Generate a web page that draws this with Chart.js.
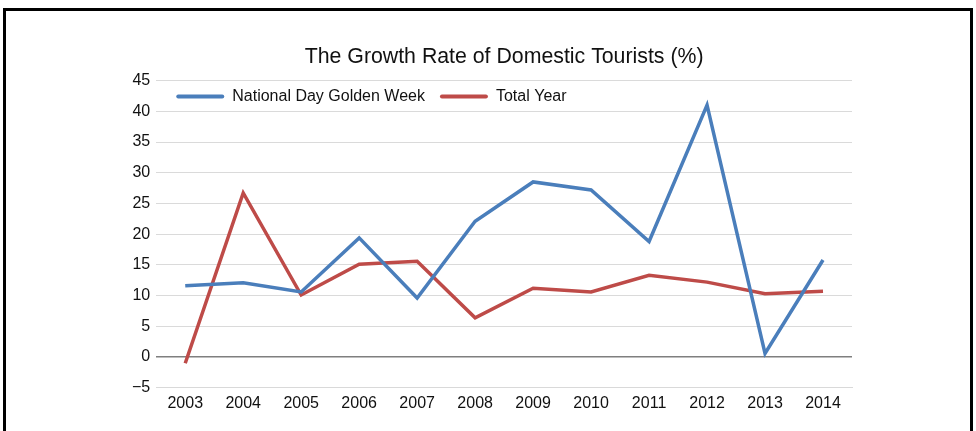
<!DOCTYPE html>
<html lang="en">
<head>
<meta charset="UTF-8">
<title>Growth Rate of Domestic Tourists</title>
<script src="https://cdn.jsdelivr.net/npm/chart.js@4.4.1/dist/chart.umd.min.js"></script>
<style>
    body {
        margin: 0;
        background: #fff;
        font-family: 'Liberation Sans', Arial, sans-serif;
    }
    .frame {
        position: absolute;
        left: 3px;
        top: 8px;
        width: 964px;
        height: 440px;
        border: 3px solid #000;
        border-bottom: none;
    }
    .chartBox {
        position: absolute;
        left: 0;
        top: 0;
        width: 976px;
        height: 431px;
    }
</style>
</head>
<body>
<div class="frame"></div>
<div class="chartBox">
    <canvas id="myChart"></canvas>
</div>
<script>
    const years = ['2003', '2004', '2005', '2006', '2007', '2008', '2009', '2010', '2011', '2012', '2013', '2014'];
    const goldenWeek = [11.6, 12.1, 10.6, 19.4, 9.6, 22.1, 28.5, 27.2, 18.8, 41.0, 0.6, 15.8];
    const totalYear = [-1.0, 26.7, 10.1, 15.1, 15.6, 6.4, 11.2, 10.6, 13.3, 12.2, 10.3, 10.7];

    const blue = '#4a7ebb';
    const red = '#be4b48';

    // centre the title over the plot area rather than the whole canvas
    const titleOverPlot = {
        id: 'titleOverPlot',
        afterLayout(chart) {
            const t = chart.titleBlock;
            if (t) {
                t.left = chart.chartArea.left;
                t.right = chart.chartArea.right;
            }
        }
    };

    // legend drawn inside the plot, just under the top gridline
    const insideLegend = {
        id: 'insideLegend',
        afterDraw(chart) {
            const ctx = chart.ctx;
            const area = chart.chartArea;
            const y = area.top + 16;
            let x = area.left + 22;
            ctx.save();
            ctx.font = '16px "Liberation Sans", Arial, sans-serif';
            ctx.textBaseline = 'middle';
            chart.data.datasets.forEach(ds => {
                ctx.strokeStyle = ds.borderColor;
                ctx.lineWidth = 4;
                ctx.lineCap = 'round';
                ctx.beginPath();
                ctx.moveTo(x, y);
                ctx.lineTo(x + 44, y);
                ctx.stroke();
                x += 54;
                ctx.fillStyle = '#111';
                ctx.fillText(ds.label, x, y);
                x += ctx.measureText(ds.label).width + 17;
            });
            ctx.restore();
        }
    };

    const data = {
        labels: years,
        datasets: [{
            label: 'National Day Golden Week',
            data: goldenWeek,
            borderColor: blue,
            backgroundColor: blue,
            borderWidth: 3.5,
            pointRadius: 0,
            tension: 0
        }, {
            label: 'Total Year',
            data: totalYear,
            borderColor: red,
            backgroundColor: red,
            borderWidth: 3.5,
            pointRadius: 0,
            tension: 0
        }]
    };

    const config = {
        type: 'line',
        data,
        plugins: [titleOverPlot, insideLegend],
        options: {
            responsive: true,
            maintainAspectRatio: false,
            animation: false,
            layout: {
                padding: { left: 126, right: 124, top: 44, bottom: 20 }
            },
            scales: {
                x: {
                    offset: true,
                    grid: { display: false },
                    border: { color: '#d9d9d9' },
                    ticks: {
                        color: '#111',
                        font: { family: 'Liberation Sans', size: 16 },
                        padding: -2,
                        maxRotation: 0
                    }
                },
                y: {
                    min: -5,
                    max: 45,
                    grid: {
                        drawTicks: false,
                        color: ctx => ctx.tick && ctx.tick.value === 0 ? '#7f7f7f' : '#dadada',
                        lineWidth: ctx => ctx.tick && ctx.tick.value === 0 ? 1.5 : 1
                    },
                    border: { display: false },
                    ticks: {
                        stepSize: 5,
                        color: '#111',
                        font: { family: 'Liberation Sans', size: 16 },
                        padding: 6,
                        callback: v => String(v).replace('-', '\u2212')
                    }
                }
            },
            plugins: {
                title: {
                    display: true,
                    text: 'The Growth Rate of Domestic Tourists (%)',
                    color: '#111',
                    font: { family: 'Liberation Sans', size: 21.3, weight: 'normal' },
                    padding: { top: 0, bottom: 11 }
                },
                legend: { display: false },
                tooltip: { enabled: false }
            }
        }
    };

    const myChart = new Chart(document.getElementById('myChart'), config);
</script>
</body>
</html>
